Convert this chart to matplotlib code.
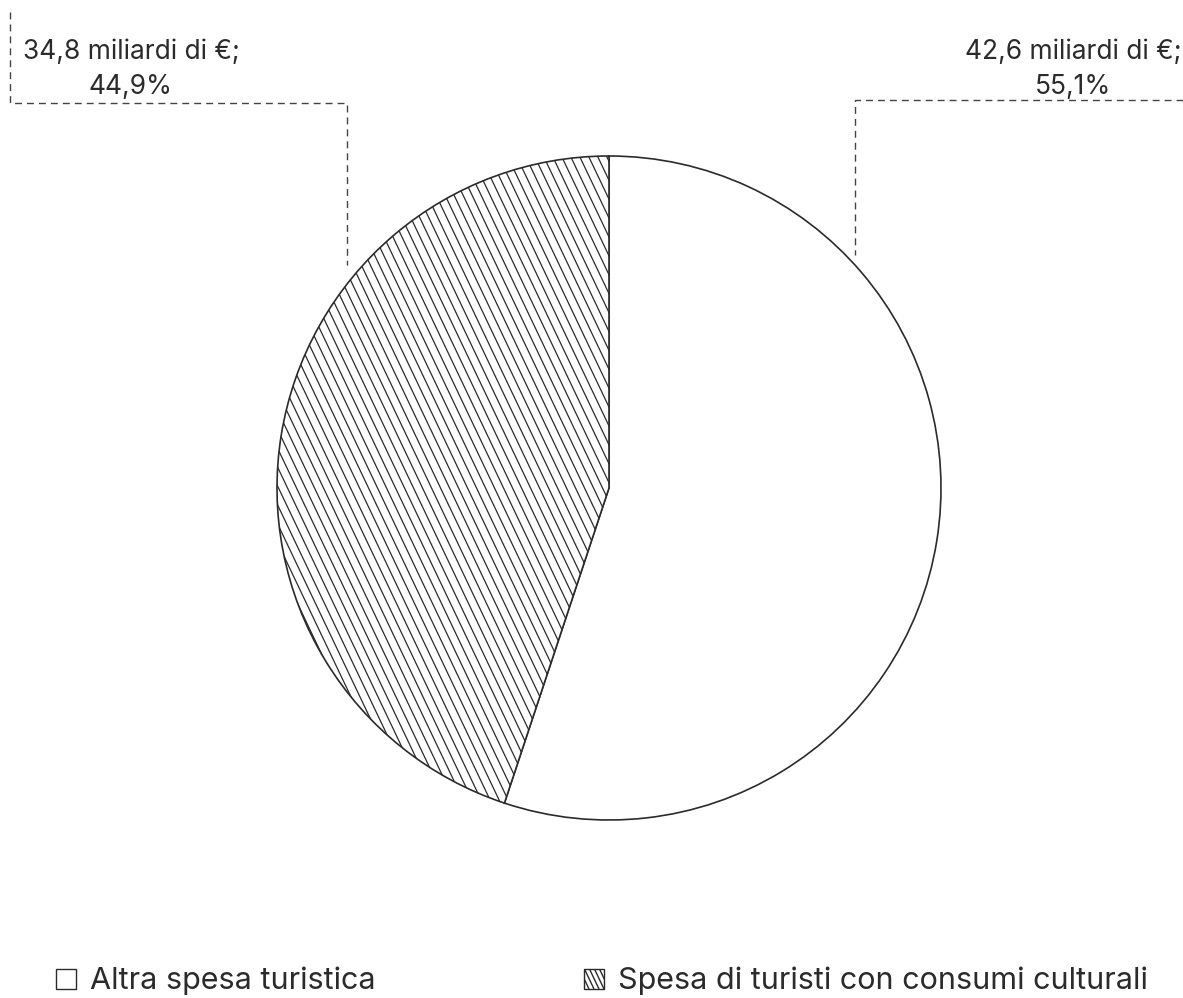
import numpy as np
import matplotlib.pyplot as plt
from matplotlib.patches import Rectangle
from matplotlib.collections import LineCollection

plt.rcParams['font.family'] = ['Inter', 'DejaVu Sans']

# spending of tourists, billions of euro and share of total
categories = ["Altra spesa turistica", "Spesa di turisti con consumi culturali"]
spend_bn = [42.6, 34.8]
shares = [55.1, 44.9]
value_labels = ["42,6 miliardi di €;\n55,1%", "34,8 miliardi di €;\n44,9%"]

W, H = 1183, 998
ink = '#2b2b2b'

fig = plt.figure(figsize=(W / 100, H / 100), dpi=100)
ax = fig.add_axes([0, 0, 1, 1])

cx, cy, r = 609, H - 488, 332
wedges, _ = ax.pie(shares, startangle=90, counterclock=False,
                   center=(cx, cy), radius=r, colors=['white', 'white'],
                   wedgeprops=dict(edgecolor=ink, linewidth=1.2))
ax.set_xlim(0, W)
ax.set_ylim(0, H)
ax.axis('off')


def steep_hatch(x_lo, x_hi, y_lo, y_hi, step, slope=2.1, lw=0.9):
    # backslash-style lines, steeper than the built-in 45 degree hatch
    segs = []
    span = (y_hi - y_lo) / slope
    for x0 in np.arange(x_lo - span, x_hi + span, step):
        segs.append([(x0, y_hi), (x0 + span, y_lo)])
    return LineCollection(segs, colors=ink, linewidths=lw)


hatch = steep_hatch(cx - r, cx + r, cy - r - 5, cy + r + 5, 9)
ax.add_collection(hatch)
hatch.set_clip_path(wedges[1])


def arc_y(x):
    return cy + np.sqrt(r ** 2 - (x - cx) ** 2)


# dashed leaders from the labels down to the pie
dash = dict(color='#444444', lw=1.0, dashes=(5, 3.6))
xl = 347
ax.plot([10, 10, xl, xl], [H - 12, H - 103, H - 103, arc_y(xl) + 19], **dash)
xr = 855
ax.plot([W, xr, xr], [H - 100, H - 100, arc_y(xr) + 10], **dash)

ax.text(131, H - 94, value_labels[1], ha='center', va='baseline',
        fontsize=19, color=ink, linespacing=1.45)
ax.text(1073, H - 94, value_labels[0], ha='center', va='baseline',
        fontsize=19, color=ink, linespacing=1.45)

# legend along the bottom
box = 20
leg_x = [56, 584]
for i, name in enumerate(categories):
    sq = Rectangle((leg_x[i], 9), box, box, facecolor='white',
                   edgecolor=ink, linewidth=1.0)
    ax.add_patch(sq)
    if i == 1:
        lh = steep_hatch(leg_x[i], leg_x[i] + box, 9, 9 + box, 5, lw=1.0)
        ax.add_collection(lh)
        lh.set_clip_path(sq)
    ax.text(leg_x[i] + box + 14, 9, name, ha='left', va='baseline',
            fontsize=22, color=ink)

fig.savefig('out.png', dpi=100, facecolor='white')
